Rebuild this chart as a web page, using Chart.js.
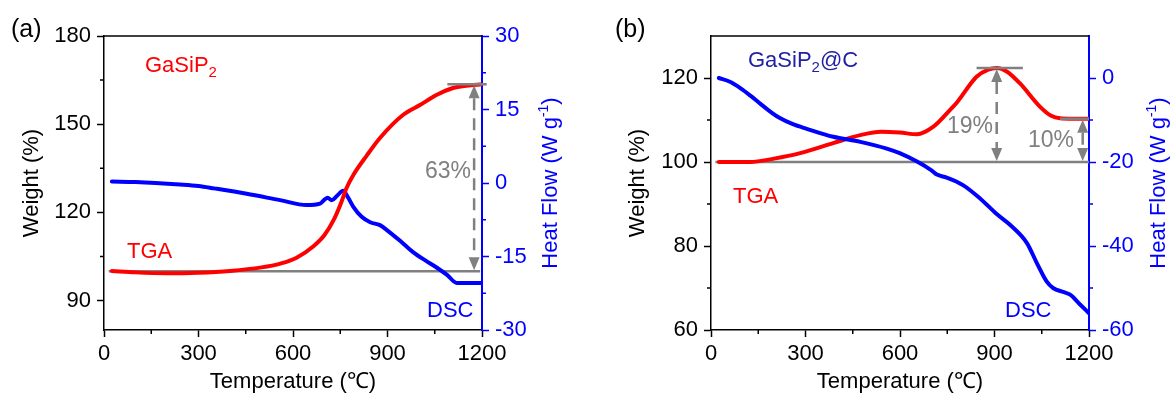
<!DOCTYPE html>
<html>
<head>
<meta charset="utf-8">
<script src="https://cdn.jsdelivr.net/npm/chart.js@4.4.1/dist/chart.umd.min.js"></script>
<style>
  body { margin: 0; background: #fff; }
  #wrap { position: relative; width: 1172px; height: 397px; }
  canvas { position: absolute; top: 0; }
</style>
</head>
<body>
<div id="wrap">
  <canvas id="chartA" width="586" height="397" style="left:0"></canvas>
  <canvas id="chartB" width="586" height="397" style="left:586px"></canvas>
</div>
<script>
// ---- GaSiP2 (panel a) ----
const tempTgaA = [25, 100, 200, 300, 400, 500, 560, 610, 665, 700, 730, 750, 770, 792, 834, 876, 950, 1003, 1057, 1108, 1150, 1200];
const weightA  = [100.1, 99.6, 99.3, 99.5, 100.1, 101.3, 102.6, 104.5, 108.5, 112.3, 117.6, 122.5, 128.3, 132.8, 139.3, 145.3, 153.2, 156.5, 160.0, 162.3, 163.1, 163.6];
const tempDscA = [25, 100, 241, 300, 350, 453, 559, 643, 686, 700, 710, 723, 740, 759, 775, 791, 818, 845, 876, 898, 940, 981, 1020, 1057, 1090, 1120, 1160, 1200];
const heatA    = [0.3, 0.2, -0.3, -0.6, -1.1, -2.2, -3.5, -4.5, -4.2, -3.4, -3.0, -3.5, -2.6, -1.6, -3.0, -4.8, -6.9, -8.0, -8.6, -9.6, -11.8, -14.1, -15.8, -17.3, -18.8, -20.4, -20.4, -20.4];

// ---- GaSiP2@C (panel b) ----
const tempTgaB = [25, 124, 200, 283, 388, 474, 540, 600, 654, 706, 759, 782, 843, 880, 907, 940, 981, 1044, 1080, 1108, 1150, 1200];
const weightB  = [100.0, 100.0, 100.8, 102.1, 104.5, 106.4, 107.2, 107.0, 106.6, 108.4, 112.4, 114.3, 120.3, 122.0, 122.4, 121.5, 118.7, 113.2, 111.0, 110.4, 110.3, 110.3];
const tempDscB = [25, 60, 93, 125, 156, 190, 220, 260, 304, 388, 474, 558, 599, 654, 700, 717, 748, 800, 856, 907, 950, 1003, 1034, 1066, 1086, 1120, 1140, 1170, 1200];
const heatB    = [0, -0.9, -2.4, -4.2, -6.1, -8.1, -9.6, -11.0, -12.1, -14.0, -15.2, -16.8, -17.9, -19.9, -22.0, -23.0, -23.7, -25.5, -28.8, -32.4, -35.0, -39.3, -44.0, -48.5, -50.0, -51.0, -51.6, -53.8, -56.0];

// ---- axis ticks ----
const tempTicks = [0, 300, 600, 900, 1200];
const tempMinor = [150, 450, 750, 1050];
const weightTicksA = [90, 120, 150, 180];
const weightMinorA = [105, 135, 165];
const heatTicksA = [-30, -15, 0, 15, 30];
const heatMinorA = [-22.5, -7.5, 7.5, 22.5];
const weightTicksB = [60, 80, 100, 120];
const weightMinorB = [70, 90, 110];
const heatTicksB = [-60, -40, -20, 0];
const heatMinorB = [-50, -30, -10];

// weight reference level and the changes marked with arrows
const baseWeight = 100;
const gainLabelsA = ['63%'];
const gainLabelsB = ['19%', '10%'];

const FONT = 'Arial, "Liberation Sans", sans-serif';
const RED = '#ff0000', BLUE = '#0000ff', GRAY = '#808080', NAVY = '#2121a3';
Chart.defaults.font.family = FONT;
Chart.defaults.color = '#000';

function pts(xs, ys) {
  return xs.map((x, i) => ({ x: x, y: ys[i] }));
}

// text made of runs: [string, size, dy]
function runText(ctx, runs, x, y, color) {
  ctx.fillStyle = color;
  ctx.textAlign = 'left';
  ctx.textBaseline = 'alphabetic';
  let cx = x;
  runs.forEach(r => {
    ctx.font = r[1] + 'px ' + FONT;
    ctx.fillText(r[0], cx, y + r[2]);
    cx += ctx.measureText(r[0]).width;
  });
  return cx - x;
}

function minorTicks(ctx, scale, values, color) {
  ctx.strokeStyle = color;
  ctx.lineWidth = 1.5;
  ctx.beginPath();
  values.forEach(v => {
    const p = scale.getPixelForValue(v);
    if (scale.position === 'bottom') { ctx.moveTo(p, scale.top); ctx.lineTo(p, scale.top + 4); }
    else if (scale.position === 'left') { ctx.moveTo(scale.right, p); ctx.lineTo(scale.right - 4, p); }
    else { ctx.moveTo(scale.left, p); ctx.lineTo(scale.left + 4, p); }
  });
  ctx.stroke();
}

function head(ctx, x, y, dir) {
  // tip at (x, y); dir -1 points up, +1 points down
  ctx.beginPath();
  ctx.moveTo(x, y);
  ctx.lineTo(x - 5.5, y - dir * 13);
  ctx.lineTo(x + 5.5, y - dir * 13);
  ctx.closePath();
  ctx.fill();
}

const decor = {
  id: 'decor',
  beforeDatasetsDraw(chart, args, opts) {
    const { ctx, scales: { x, y } } = chart;
    const py = y.getPixelForValue(baseWeight);
    ctx.save();
    ctx.strokeStyle = GRAY;
    ctx.lineWidth = 2.5;
    ctx.beginPath();
    ctx.moveTo(x.getPixelForValue(opts.baseSpan[0]), py);
    ctx.lineTo(x.getPixelForValue(opts.baseSpan[1]), py);
    ctx.stroke();
    ctx.restore();
  },
  afterDraw(chart, args, opts) {
    const { ctx, chartArea: a, scales: { x, y, y1 } } = chart;
    ctx.save();
    // top frame line
    ctx.strokeStyle = '#000';
    ctx.lineWidth = 1.5;
    ctx.beginPath();
    ctx.moveTo(a.left, a.top);
    ctx.lineTo(a.right, a.top);
    ctx.stroke();

    minorTicks(ctx, x, tempMinor, '#000');
    minorTicks(ctx, y, opts.weightMinor, '#000');
    minorTicks(ctx, y1, opts.heatMinor, BLUE);

    // plateau caps and double arrows
    const yb = y.getPixelForValue(baseWeight);
    opts.gains.forEach(g => {
      const yt = y.getPixelForValue(g.level);
      const xa = x.getPixelForValue(g.at);
      ctx.strokeStyle = GRAY;
      ctx.fillStyle = GRAY;
      ctx.lineWidth = 2.5;
      ctx.setLineDash([]);
      ctx.beginPath();
      ctx.moveTo(x.getPixelForValue(g.span[0]), yt);
      ctx.lineTo(x.getPixelForValue(g.span[1]), yt);
      ctx.stroke();
      head(ctx, xa, yt + 1, -1);
      head(ctx, xa, yb - 1, 1);
      ctx.setLineDash([12, 8]);
      ctx.beginPath();
      ctx.moveTo(xa, yt + 14);
      ctx.lineTo(xa, yb - 14);
      ctx.stroke();
      ctx.setLineDash([]);
    });

    // text labels
    opts.texts.forEach(t => runText(ctx, t.runs, t.x, t.y, t.color));

    // right axis title, reading bottom to top
    ctx.translate(opts.heatTitleX, (a.top + a.bottom) / 2);
    ctx.rotate(-Math.PI / 2);
    ctx.font = '22px ' + FONT;
    const w1 = ctx.measureText('Heat Flow (W g').width;
    ctx.font = '14px ' + FONT;
    const w2 = ctx.measureText('-1').width;
    ctx.font = '22px ' + FONT;
    const w3 = ctx.measureText(')').width;
    runText(ctx, [['Heat Flow (W g', 22, 0], ['-1', 14, -9], [')', 22, 0]], -(w1 + w2 + w3) / 2, 8, BLUE);
    ctx.restore();
  }
};

function buildPanel(id, cfg) {
  const tickFont = { size: 22 };
  return new Chart(document.getElementById(id), {
    type: 'line',
    data: { datasets: cfg.datasets },
    options: {
      responsive: false,
      animation: false,
      layout: { padding: { top: 36, left: 0, right: 0, bottom: 0 } },
      elements: {
        point: { radius: 0 },
        line: { borderWidth: 4, cubicInterpolationMode: 'monotone', borderCapStyle: 'round' }
      },
      plugins: {
        legend: { display: false },
        tooltip: { enabled: false },
        decor: cfg.decor
      },
      scales: {
        x: {
          type: 'linear', min: 0, max: 1200,
          afterBuildTicks: s => { s.ticks = tempTicks.map(v => ({ value: v })); },
          afterFit: s => { s.height = 67; },
          ticks: { font: tickFont, color: '#000', padding: 4, maxRotation: 0, autoSkip: false, callback: v => String(v) },
          grid: { drawOnChartArea: false, tickLength: 7, tickWidth: 1.5, tickColor: '#000' },
          border: { color: '#000', width: 1.5 },
          title: { display: true, text: 'Temperature (℃)', font: { size: 22 }, color: '#000', padding: { top: 0, bottom: 2 } }
        },
        y: {
          type: 'linear', position: 'left', min: cfg.wMin, max: cfg.wMax,
          afterBuildTicks: s => { s.ticks = cfg.weightTicks.map(v => ({ value: v })); },
          afterFit: s => { s.width = cfg.leftWidth; },
          ticks: { font: tickFont, color: '#000', padding: 6, callback: v => String(v) },
          grid: { drawOnChartArea: false, tickLength: 7, tickWidth: 1.5, tickColor: '#000' },
          border: { color: '#000', width: 1.5 },
          title: { display: true, text: 'Weight (%)', font: { size: 22 }, color: '#000', padding: { top: cfg.weightTitlePad, bottom: 0 } }
        },
        y1: {
          type: 'linear', position: 'right', min: cfg.hMin, max: cfg.hMax,
          afterBuildTicks: s => { s.ticks = cfg.heatTicks.map(v => ({ value: v })); },
          afterFit: s => { s.width = cfg.rightWidth; },
          ticks: { font: tickFont, color: BLUE, padding: 6, callback: v => String(v) },
          grid: { drawOnChartArea: false, tickLength: 7, tickWidth: 1.5, tickColor: BLUE },
          border: { color: BLUE, width: 2 }
        }
      }
    },
    plugins: [decor]
  });
}

buildPanel('chartA', {
  datasets: [
    { data: pts(tempTgaA, weightA), borderColor: RED, yAxisID: 'y' },
    { data: pts(tempDscA, heatA), borderColor: BLUE, yAxisID: 'y1' }
  ],
  wMin: 80, wMax: 180, hMin: -30, hMax: 30,
  weightTicks: weightTicksA, heatTicks: heatTicksA,
  leftWidth: 104, rightWidth: 104, weightTitlePad: 19,
  decor: {
    baseSpan: [15, 1194],
    weightMinor: weightMinorA,
    heatMinor: heatMinorA,
    heatTitleX: 549,
    gains: [
      { level: weightA[weightA.length - 1], at: 1175, span: [1090, 1215] }
    ],
    texts: [
      { runs: [['(a)', 25, 0]], x: 11, y: 37, color: '#000' },
      { runs: [['GaSiP', 22, 0], ['2', 15, 5]], x: 145, y: 72, color: RED },
      { runs: [['TGA', 22, 0]], x: 127, y: 258, color: RED },
      { runs: [['DSC', 22, 0]], x: 427, y: 317, color: BLUE },
      { runs: [[gainLabelsA[0], 23, 0]], x: 425, y: 178, color: GRAY }
    ]
  }
});

buildPanel('chartB', {
  datasets: [
    { data: pts(tempDscB, heatB), borderColor: BLUE, yAxisID: 'y1' },
    { data: pts(tempTgaB, weightB), borderColor: RED, yAxisID: 'y' }
  ],
  wMin: 60, wMax: 130, hMin: -60, hMax: 10,
  weightTicks: weightTicksB, heatTicks: heatTicksB,
  leftWidth: 125, rightWidth: 83, weightTitlePad: 39,
  decor: {
    baseSpan: [14, 1200],
    weightMinor: weightMinorB,
    heatMinor: heatMinorB,
    heatTitleX: 571,
    gains: [
      { level: Math.max(...weightB), at: 907, span: [843, 990] },
      { level: weightB[weightB.length - 1], at: 1180, span: [1108, 1200] }
    ],
    texts: [
      { runs: [['(b)', 25, 0]], x: 29, y: 37, color: '#000' },
      { runs: [['GaSiP', 22, 0], ['2', 15, 5], ['@C', 22, 0]], x: 162, y: 67, color: NAVY },
      { runs: [['TGA', 22, 0]], x: 147, y: 203, color: RED },
      { runs: [['DSC', 22, 0]], x: 419, y: 317, color: BLUE },
      { runs: [[gainLabelsB[0], 23, 0]], x: 361, y: 133, color: GRAY },
      { runs: [[gainLabelsB[1], 23, 0]], x: 442, y: 147, color: GRAY }
    ]
  }
});
</script>
</body>
</html>
